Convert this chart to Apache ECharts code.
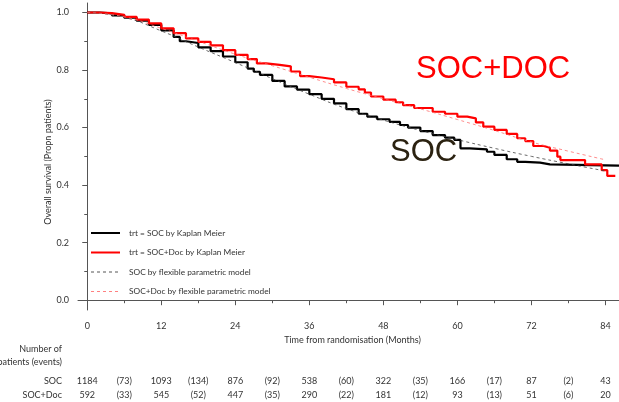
<!DOCTYPE html>
<html>
<head>
<meta charset="utf-8">
<script src="https://cdn.jsdelivr.net/npm/echarts@6/dist/echarts.min.js"></script>
<style>
  html, body { margin: 0; padding: 0; background: #fff; }
  #main { width: 619px; height: 402px; }
</style>
</head>
<body>
<div id="main"></div>
<script>
// ticks (months / proportion)
var xTicks = [0, 12, 24, 36, 48, 60, 72, 84];
var xMinorTicks = [6, 18, 30, 42, 54, 66, 78];
var yTicks = [0, 0.2, 0.4, 0.6, 0.8, 1.0];
var yMinorTicks = [0.1, 0.3, 0.5, 0.7, 0.9];

// Kaplan Meier, SOC  [month, survival]
var socKM = [
  [0, 1.0], [2, 0.997], [4, 0.99], [6, 0.982], [8, 0.972], [10, 0.957],
  [12, 0.938], [14, 0.915], [15, 0.9], [16, 0.894], [18, 0.879], [20, 0.866],
  [22, 0.847], [24, 0.827], [26, 0.805], [27, 0.794], [28, 0.783], [30, 0.762],
  [32, 0.743], [34, 0.732], [36, 0.716], [38, 0.7], [40, 0.684], [42, 0.664],
  [44, 0.648], [45.4, 0.638], [47, 0.629], [49, 0.62], [50.7, 0.609], [52, 0.6],
  [54, 0.588], [56, 0.574], [58, 0.565], [59.5, 0.557], [60.5, 0.528], [62, 0.524],
  [64.8, 0.516], [66, 0.505], [68, 0.49], [69.7, 0.481], [71, 0.478], [73.4, 0.472],
  [75, 0.468], [86.2, 0.468]
];
// Kaplan Meier, SOC+Doc
var docKM = [
  [0, 1.0], [2, 0.998], [4, 0.992], [6, 0.985], [8, 0.975], [10, 0.962],
  [12, 0.945], [14, 0.928], [16, 0.91], [18, 0.898], [20, 0.886], [22, 0.869],
  [24, 0.853], [26, 0.838], [27.5, 0.823], [29, 0.818], [31.2, 0.813], [33, 0.795],
  [34.5, 0.779], [36, 0.774], [38, 0.768], [40, 0.757], [42, 0.742], [44, 0.733],
  [45, 0.722], [46, 0.708], [48, 0.697], [50, 0.688], [51.2, 0.678], [53, 0.668],
  [56, 0.655], [58, 0.648], [60, 0.638], [61.6, 0.632], [63, 0.618], [64.2, 0.603],
  [66, 0.592], [68, 0.578], [69.7, 0.563], [71, 0.553], [72.3, 0.536], [74, 0.53],
  [75, 0.52], [76.2, 0.499], [76.7, 0.487], [80.7, 0.472], [83.4, 0.452],
  [84.3, 0.432], [85.6, 0.432]
];
// flexible parametric model fits
var socFit = [
  [0, 1.0], [6, 0.983], [12, 0.936], [18, 0.88], [24, 0.826], [30, 0.77],
  [36, 0.716], [42, 0.666], [48, 0.626], [54, 0.59], [60, 0.558], [66, 0.528],
  [72, 0.5], [78, 0.474], [84, 0.449]
];
var docFit = [
  [0, 1.0], [6, 0.985], [12, 0.945], [18, 0.9], [24, 0.855], [30, 0.815],
  [36, 0.775], [42, 0.736], [48, 0.7], [54, 0.665], [60, 0.628], [66, 0.59],
  [72, 0.55], [78, 0.518], [84, 0.488]
];

// number at risk table
var riskMonths = [0, 12, 24, 36, 48, 60, 72, 84];
var eventMonths = [6, 18, 30, 42, 54, 66, 78];
var socAtRisk = [1184, 1093, 876, 538, 322, 166, 87, 43];
var socEvents = [73, 134, 92, 60, 35, 17, 2];
var docAtRisk = [592, 545, 447, 290, 181, 93, 51, 20];
var docEvents = [33, 52, 35, 22, 12, 13, 6];

var font = 'Lato';
var txtColor = '#333';
var axisColor = '#555';

var myChart = echarts.init(document.getElementById('main'));

var xMin = -1.5, xMax = 86.2, yMin = -0.034, yMax = 1.033;

var option = {
  animation: false,
  grid: { left: 78, right: 0, top: 3, bottom: 92 },
  legend: {
    orient: 'vertical',
    left: 90,
    top: 228,
    padding: 0,
    itemWidth: 29,
    itemHeight: 10,
    itemGap: 9.5,
    itemStyle: { opacity: 0 },
    textStyle: { fontFamily: font, fontSize: 8.3, color: txtColor, padding: [0, 0, 0, 4] },
    data: [
      { name: 'trt = SOC by Kaplan Meier' },
      { name: 'trt = SOC+Doc by Kaplan Meier' },
      { name: 'SOC by flexible parametric model', lineStyle: { width: 1, color: '#555', type: [3, 3] } },
      { name: 'SOC+Doc by flexible parametric model', lineStyle: { width: 1, color: '#ff8080', type: [3, 3] } }
    ]
  },
  xAxis: [
    {
      type: 'value', min: xMin, max: xMax,
      name: 'Time from randomisation (Months)',
      nameLocation: 'middle', nameGap: 18,
      nameTextStyle: { fontFamily: font, fontSize: 9, color: txtColor, padding: [0, 0, 0, 8] },
      axisLine: { lineStyle: { color: axisColor, width: 1 } },
      axisTick: { customValues: xTicks, length: 5, lineStyle: { color: axisColor } },
      axisLabel: { customValues: xTicks, margin: 12, fontFamily: font, fontSize: 9, color: txtColor },
      splitLine: { show: false }
    },
    {
      type: 'value', min: xMin, max: xMax, position: 'bottom',
      axisLine: { show: false },
      axisTick: { customValues: xMinorTicks, length: 3, lineStyle: { color: axisColor } },
      axisLabel: { show: false },
      splitLine: { show: false }
    }
  ],
  yAxis: [
    {
      type: 'value', min: yMin, max: yMax,
      axisLine: { show: true, lineStyle: { color: axisColor, width: 1 } },
      axisTick: { show: true, customValues: yTicks, length: 5, lineStyle: { color: axisColor } },
      axisLabel: {
        customValues: yTicks, margin: 9, fontFamily: font, fontSize: 9, color: txtColor,
        formatter: function (v) { return v.toFixed(1); }
      },
      splitLine: { show: false }
    },
    {
      type: 'value', min: yMin, max: yMax, position: 'left',
      axisLine: { show: false },
      axisTick: { show: true, customValues: yMinorTicks, length: 3, lineStyle: { color: axisColor } },
      axisLabel: { show: false },
      splitLine: { show: false }
    }
  ],
  series: [
    {
      name: 'trt = SOC by Kaplan Meier', type: 'line', step: 'end', data: socKM,
      showSymbol: false, symbolSize: 0, color: '#000',
      lineStyle: { color: '#000', width: 2.2 }
    },
    {
      name: 'trt = SOC+Doc by Kaplan Meier', type: 'line', step: 'end', data: docKM,
      showSymbol: false, symbolSize: 0, color: '#ff0000',
      lineStyle: { color: '#ff0000', width: 2.2 }
    },
    {
      name: 'SOC by flexible parametric model', type: 'line', smooth: true, data: socFit,
      showSymbol: false, symbolSize: 0, color: '#444',
      lineStyle: { color: '#444', width: 0.8, type: [3, 3] }
    },
    {
      name: 'SOC+Doc by flexible parametric model', type: 'line', smooth: true, data: docFit,
      showSymbol: false, symbolSize: 0, color: '#ff7070',
      lineStyle: { color: '#ff7070', width: 0.8, type: [3, 3] }
    }
  ]
};

myChart.setOption(option);

// text parts: group labels, y name, number-at-risk table
var g = [];
g.push({ type: 'text', left: 390, top: 137, style: { text: 'SOC', fontFamily: 'Liberation Sans', fontSize: 31, fill: '#2b2211' } });
g.push({ type: 'text', left: 416, top: 54, style: { text: 'SOC+DOC', fontFamily: 'Liberation Sans', fontSize: 31, fill: '#ff0000' } });
g.push({
  type: 'text', x: 48, y: 162, rotation: Math.PI / 2,
  style: { text: 'Overall survival (Propn patients)', fontFamily: font, fontSize: 9, fill: txtColor, align: 'center', verticalAlign: 'middle' }
});

function cell(x, y, txt, align) {
  g.push({
    type: 'text', x: x, y: y,
    style: { text: txt, fontFamily: font, fontSize: 9, fill: txtColor, align: align || 'center', verticalAlign: 'middle' }
  });
}
cell(62, 349, 'Number of', 'right');
cell(62, 362, 'patients (events)', 'right');
var rowSoc = 381, rowDoc = 395;
cell(62, rowSoc, 'SOC', 'right');
cell(62, rowDoc, 'SOC+Doc', 'right');
riskMonths.forEach(function (m, i) {
  var px = myChart.convertToPixel({ xAxisIndex: 0 }, m);
  cell(px, rowSoc, String(socAtRisk[i]));
  cell(px, rowDoc, String(docAtRisk[i]));
});
eventMonths.forEach(function (m, i) {
  var px = myChart.convertToPixel({ xAxisIndex: 0 }, m);
  cell(px, rowSoc, '(' + socEvents[i] + ')');
  cell(px, rowDoc, '(' + docEvents[i] + ')');
});

myChart.setOption({ graphic: g });
</script>
</body>
</html>
